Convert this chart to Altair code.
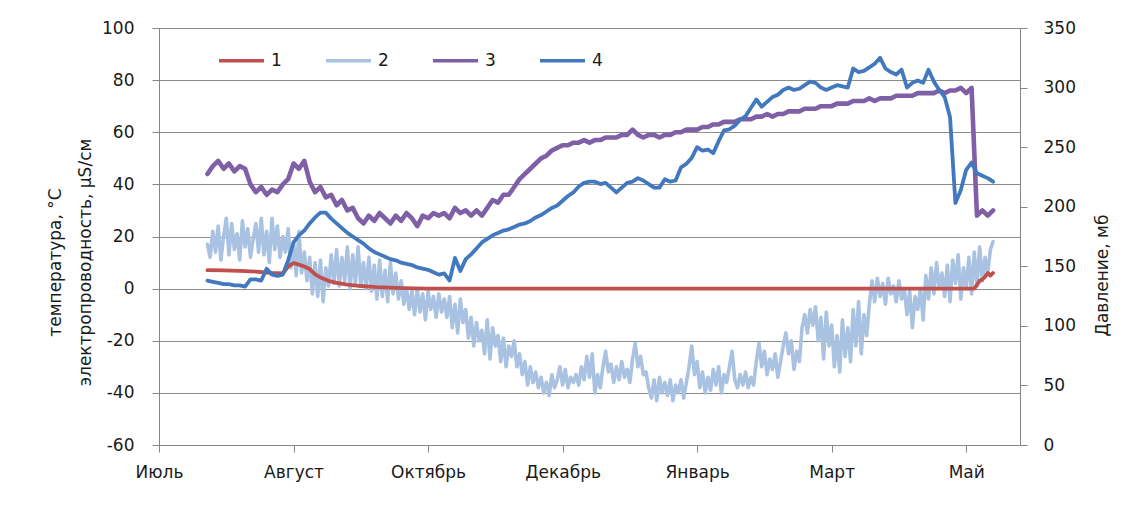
import altair as alt
import pandas as pd

# ---------------- data ----------------
months = ["Июль", "Август", "Октябрь", "Декабрь", "Январь", "Март", "Май"]
series_names = ["1", "2", "3", "4"]
series_colors = ["#C0504D", "#A9C2E2", "#7F5FA6", "#4178BE"]

# day index (0 = "Июль" tick), daily for series 2, every 2 days for series 3 and 4
days_daily = list(range(18, 311))
days_2 = list(range(18, 311, 2))

# series 1 (red), °C
s1_days = [18, 24, 30, 36, 42, 46, 48, 50, 52, 54, 56, 58, 60, 63, 66, 70, 75, 81, 88, 95, 100,
           150, 200, 250, 303, 304, 305, 306, 307, 308, 309, 310]
s1_vals = [7.1, 7.0, 6.8, 6.5, 6.0, 5.8, 8.5, 9.8, 9.2, 8.5, 7.5, 5.5, 4.3, 3.0, 2.2, 1.5, 1.0, 0.6, 0.3, 0.1, 0,
           0, 0, 0, 0, 1.5, 3.0, 3.5, 4.5, 6.0, 5.0, 6.0]

# series 2 (light blue), °C, daily
s2_vals = [
    17, 12, 22, 14, 24, 11, 20, 27, 13, 25,
    15, 21, 11, 26, 16, 23, 12, 19, 25, 14,
    27, 13, 22, 10, 27, 15, 24, 12, 20, 14,
    23, 8, 18, 5, 22, 6, 14, 3, 12, -2,
    10, -3, 11, -5, 8, 1, 13, 2, 15, 1,
    12, 3, 16, 0, 13, 2, 16, 1, 10, 0,
    12, -1, 9, -4, 11, -3, 7, -5, 10, -2,
    6, -4, 3, -6, 0, -8, -1, -10, 0, -9,
    -2, -12, -1, -8, -3, -11, -2, -9, -4, -11,
    -3, -15, -6, -17, -4, -13, -8, -19, -11, -22,
    -13, -20, -16, -25, -12, -27, -15, -22, -18, -28,
    -19, -30, -22, -26, -20, -30, -25, -33, -28, -37,
    -30, -36, -32, -38, -34, -40, -36, -41, -33, -38,
    -35, -30, -37, -31, -38, -34, -36, -33, -37, -30,
    -35, -26, -34, -25, -40, -33, -38, -30, -24, -32,
    -29, -36, -30, -35, -28, -34, -31, -36, -27, -21,
    -30, -26, -33, -32, -38, -42, -35, -43, -34, -40,
    -36, -41, -35, -43, -37, -40, -35, -42, -36, -30,
    -22, -33, -28, -38, -32, -40, -34, -39, -31, -37,
    -30, -40, -33, -36, -30, -24, -35, -38, -33, -37,
    -32, -38, -34, -37, -28, -21, -30, -24, -33, -27,
    -31, -25, -34, -28, -22, -17, -25, -20, -31, -24,
    -28, -15, -10, -17, -8, -14, -7, -20, -11, -27,
    -9, -22, -14, -30, -18, -32, -12, -26, -15, -28,
    -8, -22, -5, -25, -10, -18, -6, 3, -5, 4,
    -3, 2, -6, 4, -2, 1, -5, 3, -4, 0,
    -10, -1, -15, -3, -8, 0, -12, 5, -4, 8,
    -2, 10, 0, 6, -3, 9, -5, 11, 2, 13,
    -4, 8, 0, 12, -2, 14, 1, 16, 3, 12,
    6, 15, 18,
]

# series 3 (purple), µS/cm, every 2 days
s3_vals = [
    44, 47, 49, 46, 48, 45, 47, 46, 40, 37,
    39, 36, 38, 37, 40, 42, 48, 46, 49, 41,
    37, 39, 35, 36, 32, 34, 30, 31, 27, 25,
    28, 26, 29, 27, 25, 28, 26, 29, 27, 24,
    28, 27, 29, 28, 29, 27, 31, 29, 30, 28,
    30, 28, 31, 34, 33, 36, 36, 39, 42, 44,
    46, 48, 50, 51, 53, 54, 55, 55, 56, 56,
    57, 56, 57, 57, 58, 58, 58, 59, 59, 61,
    59, 58, 59, 59, 58, 59, 59, 60, 60, 61,
    61, 61, 62, 62, 63, 63, 64, 64, 64, 65,
    65, 65, 66, 66, 67, 66, 67, 67, 68, 68,
    68, 69, 69, 69, 70, 70, 70, 71, 71, 71,
    72, 72, 72, 73, 72, 73, 73, 73, 74, 74,
    74, 74, 75, 75, 75, 75, 76, 75, 76, 76,
    77, 75, 77, 28, 30, 28, 30,
]

# series 4 (blue), pressure, mb, every 2 days
s4_vals = [
    138, 137, 136, 135, 135, 134, 134, 133, 139, 139,
    138, 148, 143, 142, 143, 155, 170, 176, 180, 186,
    191, 195, 195, 190, 186, 182, 178, 175, 172, 169,
    165, 162, 160, 158, 156, 155, 153, 152, 151, 149,
    148, 147, 145, 143, 144, 138, 157, 146, 156, 160,
    165, 170, 173, 176, 178, 180, 181, 183, 185, 186,
    188, 191, 193, 196, 199, 201, 205, 209, 212, 217,
    220, 221, 221, 219, 220, 216, 212, 216, 220, 221,
    224, 222, 219, 216, 216, 223, 221, 222, 233, 236,
    241, 250, 247, 248, 245, 255, 264, 265, 268, 273,
    276, 283, 290, 284, 288, 292, 294, 298, 300, 298,
    299, 302, 305, 304, 300, 298, 300, 302, 301, 300,
    316, 313, 314, 317, 320, 325, 316, 313, 311, 315,
    300, 304, 306, 304, 315, 305, 298, 292, 275, 203,
    214, 231, 237, 228, 226, 224, 221,
]

left_ticks = list(range(-60, 101, 20))
right_ticks = list(range(0, 351, 50))
x_ticks = [50 * i for i in range(len(months))]

# ---------------- frames ----------------
df1 = pd.DataFrame({"day": s1_days, "val": s1_vals, "series": "1"})
df2 = pd.DataFrame({"day": days_daily[:len(s2_vals)], "val": s2_vals, "series": "2"})
df3 = pd.DataFrame({"day": days_2[:len(s3_vals)], "val": s3_vals, "series": "3"})
df4 = pd.DataFrame({"day": days_2[:len(s4_vals)], "val": s4_vals, "series": "4"})

FONT = "DejaVu Sans"
FS = 17
TXT = "#1a1a1a"
AX = "#868686"

label_expr = "[" + ",".join("'%s'" % m for m in months) + "][round(datum.value/50)]"

x_enc = alt.X(
    "day:Q",
    scale=alt.Scale(domain=[0, 320], nice=False, zero=False),
    axis=alt.Axis(values=x_ticks, labelExpr=label_expr, title=None, grid=False,
                  tickSize=7, labelPadding=12, labelFontSize=FS, labelFont=FONT,
                  labelColor=TXT, domainColor=AX, tickColor=AX, labelFlush=False),
)

left_axis = alt.Axis(
    values=left_ticks, grid=True, gridColor="#8C8C8C", gridWidth=1,
    labelExpr="'' + datum.value",
    tickSize=7, labelPadding=18, labelFontSize=FS, labelFont=FONT, labelColor=TXT,
    domainColor=AX, tickColor=AX,
    title=["температура, °C", "электропроводность, µS/см"],
    titleFont=FONT, titleFontSize=FS, titleFontWeight="normal", titleColor=TXT,
    titleAngle=270, titleAlign="center", titleBaseline="middle",
    titleX=-104, titleY=234, titleLineHeight=30,
)

right_axis = alt.Axis(
    values=right_ticks, grid=False, orient="right",
    labelExpr="'' + datum.value",
    tickSize=7, labelPadding=16, labelFontSize=FS, labelFont=FONT, labelColor=TXT,
    domainColor=AX, tickColor=AX,
    title="Давление, мб",
    titleFont=FONT, titleFontSize=FS, titleFontWeight="normal", titleColor=TXT,
    titleAngle=270, titleAlign="center", titleBaseline="middle",
    titleX=82, titleY=247,
)

legend = alt.Legend(
    orient="none", legendX=58, legendY=8, direction="horizontal", columns=4,
    title=None, symbolType="stroke", symbolSize=2025, symbolStrokeWidth=3.5,
    labelFontSize=FS, labelFont=FONT, labelColor=TXT, columnPadding=37,
    labelOffset=5, padding=0,
)

color_enc = alt.Color("series:N", scale=alt.Scale(domain=series_names, range=series_colors),
                      legend=legend)

y_left = alt.Y("val:Q", scale=alt.Scale(domain=[-60, 100], nice=False, zero=False),
               axis=left_axis)
y_right = alt.Y("val:Q", scale=alt.Scale(domain=[0, 350], nice=False, zero=False),
                axis=right_axis)


def line(df, y, width):
    return alt.Chart(df).mark_line(strokeWidth=width, strokeJoin="round",
                                   strokeCap="round").encode(x=x_enc, y=y, color=color_enc)


left = alt.layer(line(df2, y_left, 3.6), line(df1, y_left, 3.8), line(df3, y_left, 4.6))
right = line(df4, y_right, 3.8)

chart = alt.layer(left, right).resolve_scale(y="independent").properties(
    width=861, height=417,
    padding={"left": 151, "top": 20, "right": 104, "bottom": 71},
    autosize=alt.AutoSizeParams(type="none"),
).configure_view(stroke=None).configure(background="white")

chart.save("out.html", embed_options={"renderer": "svg", "actions": False})
